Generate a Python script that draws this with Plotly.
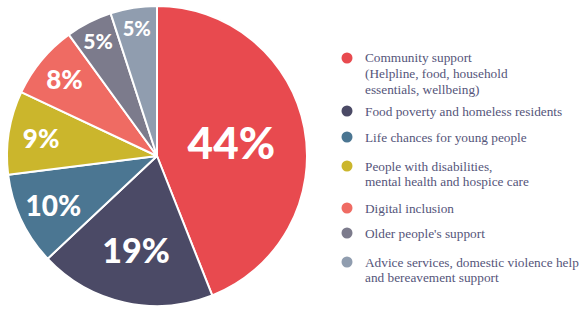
import plotly.graph_objects as go

categories = [
    "Community support<br>(Helpline, food, household<br>essentials, wellbeing)",
    "Food poverty and homeless residents",
    "Life chances for young people",
    "People with disabilities,<br>mental health and hospice care",
    "Digital inclusion",
    "Older people's support",
    "Advice services, domestic violence help<br>and bereavement support",
]
values = [44, 19, 10, 9, 8, 5, 5]
colors = ["#e84a4f", "#4b4a66", "#4b7692", "#cbb62c", "#ef6b63", "#7c7b8c", "#909daf"]
label_sizes = [44, 34, 28, 26, 26, 21, 20]
legend_y = [58, 111, 137, 166, 208, 233, 262]

W, H = 584, 313
FS = 13.3
LH = 15.5

fig = go.Figure()
fig.add_trace(go.Pie(
    labels=categories,
    values=values,
    sort=False,
    direction="clockwise",
    rotation=0,
    marker=dict(colors=colors, line=dict(color="white", width=2)),
    texttemplate="%{value}%",
    textposition="inside",
    insidetextorientation="horizontal",
    insidetextfont=dict(color="white", size=label_sizes, family="Lato", weight=900),
    showlegend=False,
    hoverinfo="label+percent",
    domain=dict(x=[7 / W, 307 / W], y=[7 / H, 1 - 6 / H]),
))

for cat, col, y in zip(categories, colors, legend_y):
    fig.add_shape(type="circle", xref="paper", yref="paper",
                  x0=(347 - 5.5) / W, x1=(347 + 5.5) / W,
                  y0=1 - (y + 5.5) / H, y1=1 - (y - 5.5) / H,
                  fillcolor=col, line=dict(width=0))
    lines = cat.split("<br>")
    for i, line in enumerate(lines):
        fig.add_annotation(x=364 / W, y=1 - (y + i * LH) / H, xref="paper", yref="paper",
                           text=line, showarrow=False, xanchor="left", yanchor="middle",
                           align="left", borderpad=0,
                           font=dict(family="Liberation Serif", size=FS, color="#55557a"))

fig.update_layout(
    width=W, height=H,
    margin=dict(l=0, r=0, t=0, b=0),
    paper_bgcolor="white",
    plot_bgcolor="white",
)
fig.write_html("out.html", config={"displayModeBar": False},
               post_script="document.body.style.margin='0';")
